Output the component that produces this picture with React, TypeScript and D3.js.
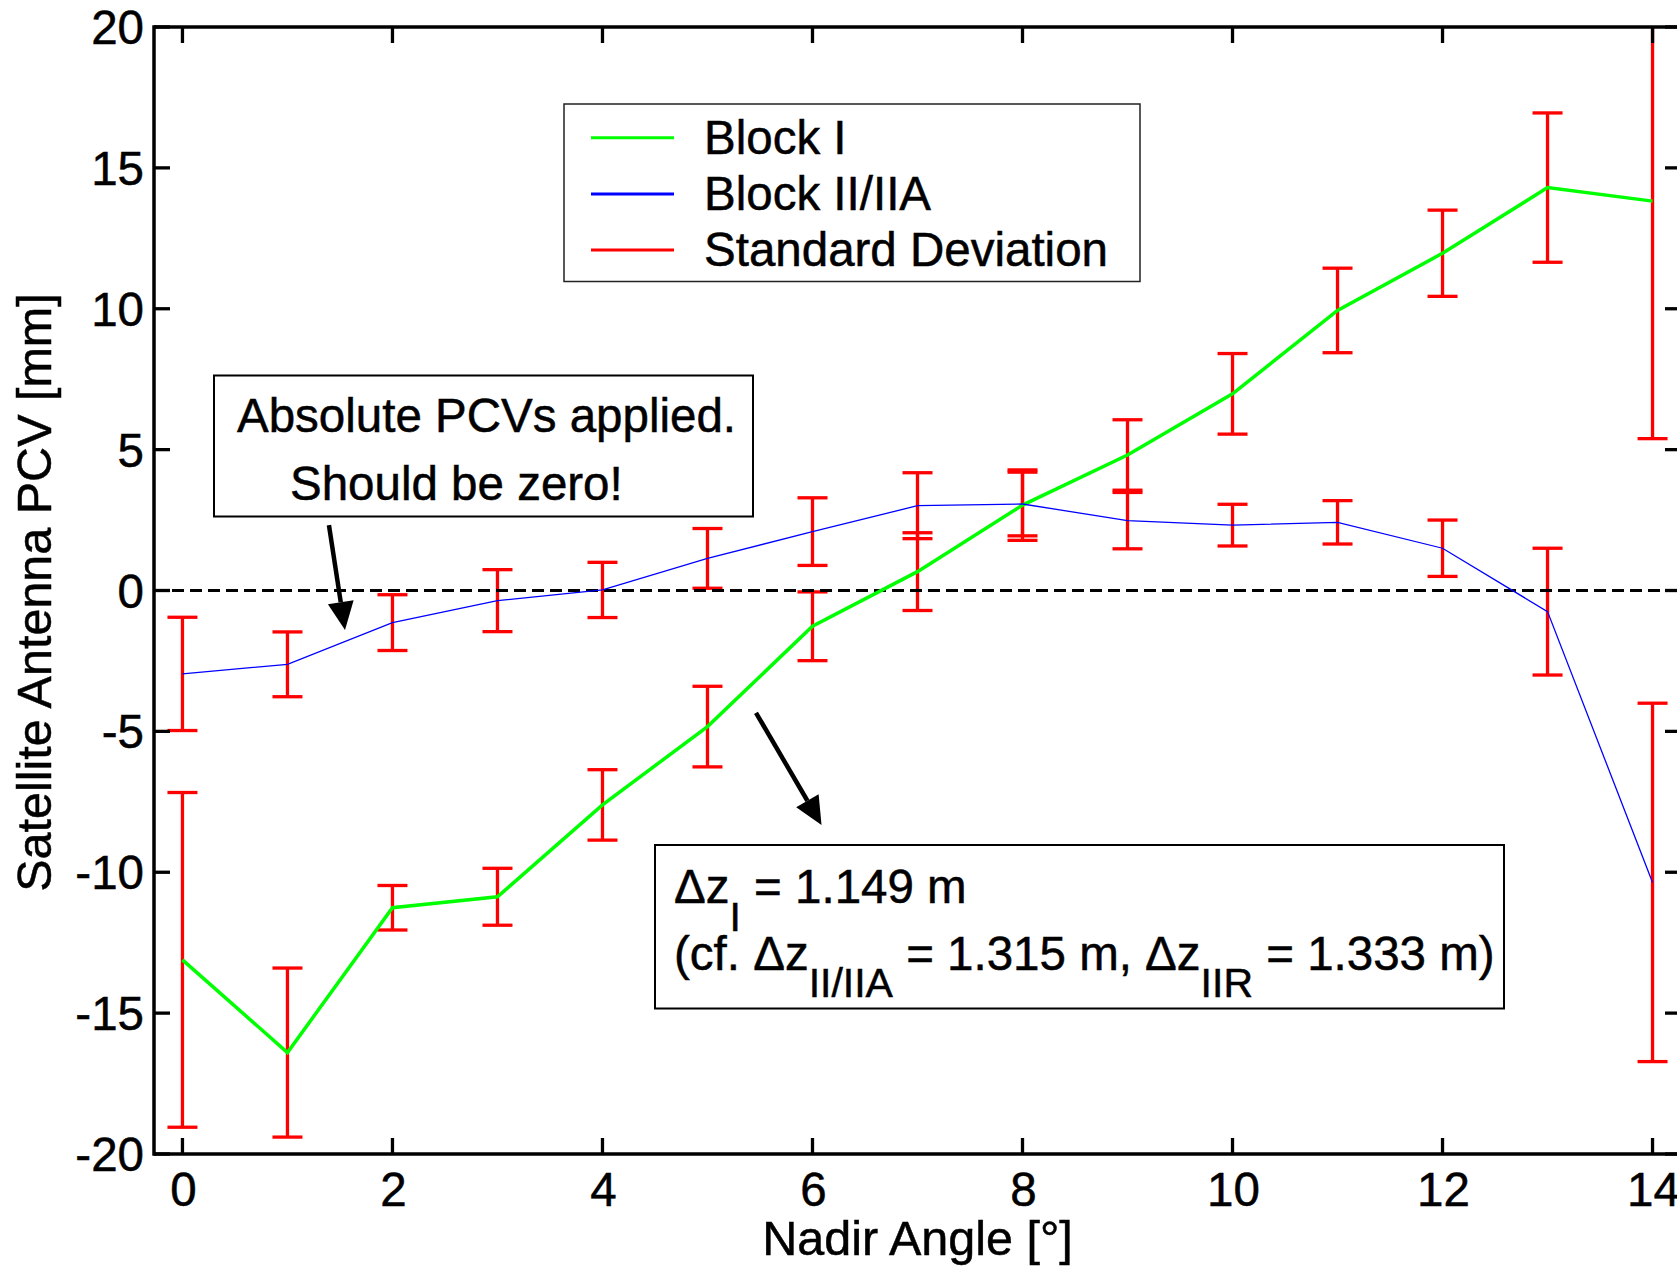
import React from "react";
import * as d3 from "d3";

const nadirAngles = [0, 1, 2, 3, 4, 5, 6, 7, 8, 9, 10, 11, 12, 13, 14];
const blockI = [-13.11, -16.4, -11.26, -10.87, -7.61, -4.83, -1.27, 0.67, 3.03, 4.81, 6.98, 9.94, 11.97, 14.3, 13.82];
const blockIStd = [5.94, 3.0, 0.79, 1.01, 1.25, 1.43, 1.22, 1.38, 1.25, 1.25, 1.43, 1.5, 1.53, 2.65, 8.43];
const blockII = [-2.96, -2.62, -1.14, -0.36, 0.02, 1.14, 2.09, 3.01, 3.07, 2.48, 2.32, 2.42, 1.5, -0.75, -10.36];
const blockIIStd = [2.01, 1.15, 0.99, 1.1, 0.98, 1.06, 1.2, 1.17, 1.13, 1.0, 0.74, 0.77, 1.0, 2.25, 6.36];
const xTicks = [0, 2, 4, 6, 8, 10, 12, 14];
const yTicks = [-20, -15, -10, -5, 0, 5, 10, 15, 20];
const legendItems = [
  { label: "Block I", color: "#00ff00" },
  { label: "Block II/IIA", color: "#0000ff" },
  { label: "Standard Deviation", color: "#ff0000" },
];

const W = 1677;
const H = 1266;
const FONT = "'Liberation Sans', Arial, Helvetica, sans-serif";
const FS = 47.5;
const FS_TITLE = 48.5;

export default function App() {
  const left = 154, right = 1681, top = 27, bottom = 1154;
  const x = d3.scaleLinear().domain([-0.271, 14.271]).range([left, right]);
  const y = d3.scaleLinear().domain([-20, 20]).range([bottom, top]);
  const line = d3.line<number>().x((_, i) => x(nadirAngles[i])).y((d) => y(d));
  const tickLen = 16;
  const capHalf = 15;

  const errBars = (vals: number[], errs: number[], key: string) =>
    vals.map((v, i) => {
      const cx = x(nadirAngles[i]);
      const y1 = y(v + errs[i]);
      const y2 = y(v - errs[i]);
      return (
        <g key={key + i} stroke="#ff0000" strokeWidth={3.3}>
          <line x1={cx} x2={cx} y1={y1} y2={y2} />
          <line x1={cx - capHalf} x2={cx + capHalf} y1={y1} y2={y1} />
          <line x1={cx - capHalf} x2={cx + capHalf} y1={y2} y2={y2} />
        </g>
      );
    });

  const arrow = (x0: number, y0: number, x1: number, y1: number, key: string) => {
    const px0 = x(x0), py0 = y(y0), px1 = x(x1), py1 = y(y1);
    const ang = Math.atan2(py1 - py0, px1 - px0);
    const hl = 28, hw = 13;
    const bx = px1 - hl * Math.cos(ang), by = py1 - hl * Math.sin(ang);
    const nx = -Math.sin(ang), ny = Math.cos(ang);
    const pts = `${px1},${py1} ${bx + nx * hw},${by + ny * hw} ${bx - nx * hw},${by - ny * hw}`;
    return (
      <g key={key}>
        <line x1={px0} y1={py0} x2={bx} y2={by} stroke="#000" strokeWidth={4.5} />
        <polygon points={pts} fill="#000" />
      </g>
    );
  };

  const textStroke = { stroke: "#000", strokeWidth: 0.5 };

  return (
    <svg width={W} height={H} style={{ position: "absolute", left: 0, top: 0, background: "#fff" }} fontFamily={FONT}>
      <rect x={0} y={0} width={W} height={H} fill="#fff" />
      <defs>
        <clipPath id="plotclip">
          <rect x={left} y={top} width={right - left} height={bottom - top} />
        </clipPath>
      </defs>

      <g clipPath="url(#plotclip)">
        {errBars(blockI, blockIStd, "e1")}
        {errBars(blockII, blockIIStd, "e2")}
        <line x1={left} x2={right} y1={y(0)} y2={y(0)} stroke="#000" strokeWidth={3} strokeDasharray="12,6" />
        <path d={line(blockI) || ""} fill="none" stroke="#00ff00" strokeWidth={3.5} />
        <path d={line(blockII) || ""} fill="none" stroke="#0000ff" strokeWidth={1.3} />
      </g>

      {/* axes box */}
      <g stroke="#000" strokeWidth={3.5} fill="none">
        <line x1={left} x2={left} y1={top - 1.75} y2={bottom + 1.75} />
        <line x1={left} x2={right} y1={bottom} y2={bottom} />
        <line x1={left} x2={right} y1={top} y2={top} />
        <line x1={right} x2={right} y1={top} y2={bottom} />
      </g>
      <g stroke="#000" strokeWidth={3.3}>
        {xTicks.map((t) => (
          <g key={"xt" + t}>
            <line x1={x(t)} x2={x(t)} y1={bottom} y2={bottom - tickLen} />
            <line x1={x(t)} x2={x(t)} y1={top} y2={top + tickLen} />
          </g>
        ))}
        {yTicks.map((t) => (
          <g key={"yt" + t}>
            <line x1={left} x2={left + tickLen} y1={y(t)} y2={y(t)} />
            <line x1={right} x2={right - tickLen} y1={y(t)} y2={y(t)} />
          </g>
        ))}
      </g>
      <g fontSize={FS} fill="#000" {...textStroke}>
        {xTicks.map((t) => (
          <text key={"xl" + t} x={x(t) + 1} y={1206} textAnchor="middle">
            {t}
          </text>
        ))}
        {yTicks.map((t) => (
          <text key={"yl" + t} x={left - 10} y={y(t) + 17} textAnchor="end">
            {t}
          </text>
        ))}
        <text x={(left + right) / 2} y={1255} textAnchor="middle" fontSize={FS_TITLE}>
          Nadir Angle [°]
        </text>
        <text transform={`translate(51, ${(top + bottom) / 2 + 2}) rotate(-90)`} textAnchor="middle" fontSize={FS_TITLE}>
          Satellite Antenna PCV [mm]
        </text>
      </g>

      {/* legend */}
      <g>
        <rect x={564} y={104} width={576} height={177.5} fill="#fff" stroke="#222" strokeWidth={1.5} />
        {legendItems.map((it, i) => (
          <g key={it.label}>
            <line x1={591} x2={674} y1={137.7 + i * 56.2} y2={137.7 + i * 56.2} stroke={it.color} strokeWidth={3} />
            <text x={704} y={154 + i * 56} fontSize={FS} {...textStroke}>
              {it.label}
            </text>
          </g>
        ))}
      </g>

      {/* annotation 1 */}
      <rect x={214} y={375.5} width={539} height={141} fill="#fff" stroke="#000" strokeWidth={2} />
      <g fontSize={FS} {...textStroke}>
        <text x={237} y={432}>Absolute PCVs applied.</text>
        <text x={290} y={500}>Should be zero!</text>
      </g>
      {arrow(1.395, 2.32, 1.548, -1.4, "a1")}
      {arrow(5.462, -4.34, 6.086, -8.32, "a2")}

      {/* annotation 2 */}
      <rect x={655} y={845} width={849} height={163.5} fill="#fff" stroke="#000" strokeWidth={2} />
      <g fontSize={FS} {...textStroke}>
        <text x={674} y={903}>
          <tspan>Δz</tspan>
          <tspan dy={28} fontSize={41}>I</tspan>
          <tspan dy={-28}> = 1.149 m</tspan>
        </text>
        <text x={674} y={970}>
          <tspan>(cf. Δz</tspan>
          <tspan dy={27} fontSize={41}>II/IIA</tspan>
          <tspan dy={-27}> = 1.315 m, Δz</tspan>
          <tspan dy={27} fontSize={41}>IIR</tspan>
          <tspan dy={-27}> = 1.333 m)</tspan>
        </text>
      </g>
    </svg>
  );
}
